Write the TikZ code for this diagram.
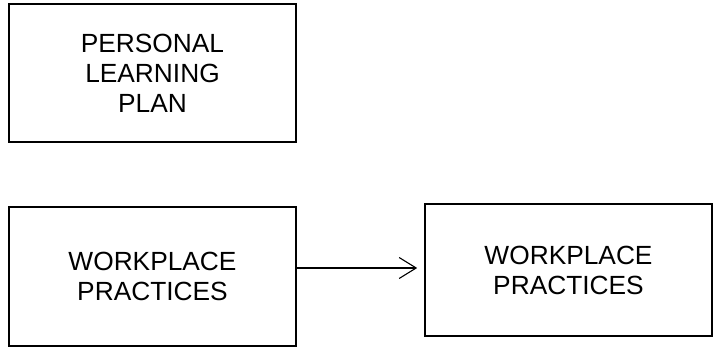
\documentclass[tikz,border=0pt]{standalone}
\usepackage{fontspec}
\setmainfont{Liberation Sans}
\usetikzlibrary{arrows.meta}
\begin{document}
\begin{tikzpicture}[x=1pt,y=-1pt,
  box/.style={draw=black, line width=1.6pt, rectangle, minimum width=287pt, align=center,
    font=\fontsize{26.3}{30}\selectfont, inner sep=0pt},
  conn/.style={line width=1.1pt, -{Straight Barb[length=17pt,width=21pt,line width=1.1pt]}}]
\useasboundingbox (0,0) rectangle (717,347);
\node[box, minimum height=138pt] (plan) at (152.5,73) {PERSONAL\\LEARNING\\PLAN};
\node[box, minimum height=138.5pt] (wp1) at (152.5,276.5) {WORKPLACE\\PRACTICES};
\node[box, minimum height=132pt] (wp2) at (568.5,270) {WORKPLACE\\PRACTICES};
\coordinate (s) at ([yshift=8.5pt]wp1.east);
\draw[conn, shorten >=7pt] (s) -- (s -| wp2.west);
\end{tikzpicture}
\end{document}
